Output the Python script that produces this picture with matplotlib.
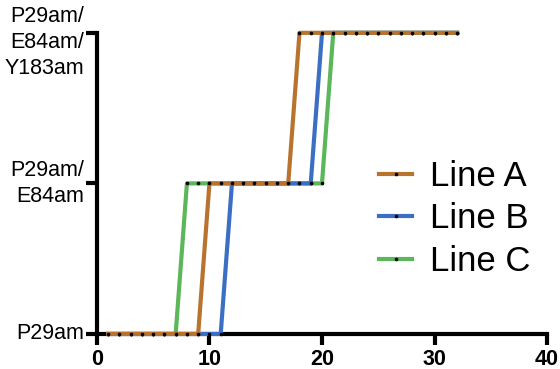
import matplotlib
matplotlib.use("Agg")
import matplotlib.pyplot as plt

plt.rcParams["font.family"] = ["Liberation Sans", "DejaVu Sans"]

x = list(range(1, 33))
# level reached at each step (0 = P29am, 1 = P29am/E84am, 2 = P29am/E84am/Y183am)
line_a = [0] * 9 + [1] * 8 + [2] * 15
line_b = [0] * 11 + [1] * 8 + [2] * 13
line_c = [0] * 7 + [1] * 13 + [2] * 12
y_labels = ["P29am", "P29am/\nE84am", "P29am/\nE84am/\nY183am"]

fig = plt.figure(figsize=(5.6, 3.69), dpi=100)
ax = fig.add_axes([0.173, 0.095, 0.804, 0.816])

ax.plot(x, line_c, color="#5BB75A", lw=3.0, marker="o", ms=1.6, mfc="black", mec="black",
        label="Line C", clip_on=False, zorder=3)
ax.plot(x, line_b, color="#3B6FC4", lw=3.0, marker="o", ms=1.6, mfc="black", mec="black",
        label="Line B", clip_on=False, zorder=4)
ax.plot(x, line_a, color="#B8732F", lw=3.0, marker="o", ms=1.6, mfc="black", mec="black",
        label="Line A", clip_on=False, zorder=5)

ax.set_xlim(0, 40)
ax.set_ylim(0, 2)
ax.set_xticks([0, 10, 20, 30, 40])
ax.set_yticks([0, 1, 2])
# top label is placed by hand a little below its tick so it fits in the figure
ax.set_yticklabels(y_labels[:2] + [""], fontsize=15.5, ha="right", va="center",
                   multialignment="right", linespacing=1.3)
ax.annotate(y_labels[2], xy=(0, 2), xycoords=("axes fraction", "data"), xytext=(-9, -7),
            textcoords="offset points", ha="right", va="center", multialignment="right",
            fontsize=15.5, linespacing=1.3, annotation_clip=False)
for t in ax.get_xticklabels():
    t.set_fontsize(15.5)
    t.set_fontweight("bold")

for s in ["top", "right"]:
    ax.spines[s].set_visible(False)
for s in ["left", "bottom"]:
    ax.spines[s].set_linewidth(3)
ax.tick_params(width=3, length=8, direction="out")
ax.tick_params(axis="x", pad=3)
ax.tick_params(axis="y", pad=1)

h, l = ax.get_legend_handles_labels()
ax.legend(h[::-1], l[::-1], loc="center left", bbox_to_anchor=(0.558, 0.382), frameon=False,
          fontsize=25, handlelength=0.95, handletextpad=0.5, labelspacing=0.27)

fig.savefig("out.png", dpi=100)
